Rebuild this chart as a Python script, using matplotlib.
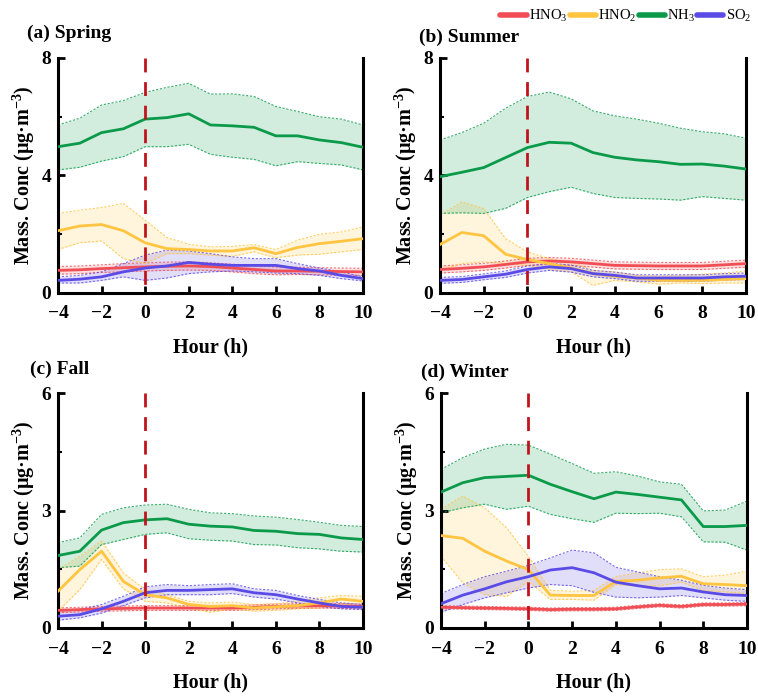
import numpy as np
import matplotlib
matplotlib.use("Agg")
import matplotlib.pyplot as plt
from matplotlib.ticker import MultipleLocator
from matplotlib.lines import Line2D

plt.rcParams['font.family'] = ['Liberation Serif', 'DejaVu Serif']
plt.rcParams['mathtext.fontset'] = 'custom'
plt.rcParams['mathtext.rm'] = 'Liberation Serif'
plt.rcParams['mathtext.bf'] = 'Liberation Serif:bold'
plt.rcParams['mathtext.it'] = 'Liberation Serif:italic'
plt.rcParams['mathtext.default'] = 'regular'

hours = list(range(-4, 11))
species = ['HNO3', 'HNO2', 'NH3', 'SO2']
labels = [r'HNO$_3$', r'HNO$_2$', r'NH$_3$', r'SO$_2$']
colors = ['#F04E54', '#FFC440', '#0A9A4A', '#5A4BE6']
titles = ['(a) Spring', '(b) Summer', '(c) Fall', '(d) Winter']
ymax = [8, 8, 6, 6]

# ---------------- Spring ----------------
spring_mean = {
    'HNO3': [0.77, 0.79, 0.83, 0.86, 0.89, 0.91, 0.92, 0.90, 0.85, 0.80, 0.75, 0.75, 0.74, 0.73, 0.72],
    'HNO2': [2.12, 2.28, 2.33, 2.12, 1.71, 1.51, 1.48, 1.43, 1.43, 1.54, 1.34, 1.55, 1.68, 1.76, 1.85],
    'NH3':  [4.98, 5.10, 5.46, 5.59, 5.92, 5.97, 6.10, 5.72, 5.69, 5.64, 5.35, 5.35, 5.21, 5.12, 4.96],
    'SO2':  [0.43, 0.47, 0.55, 0.72, 0.85, 0.92, 1.04, 0.98, 0.94, 0.94, 0.94, 0.83, 0.75, 0.60, 0.49],
}
spring_upper = {
    'HNO3': [0.90, 0.92, 0.96, 1.00, 1.03, 1.05, 1.06, 1.03, 0.98, 0.94, 0.88, 0.88, 0.86, 0.85, 0.84],
    'HNO2': [2.71, 2.82, 2.91, 3.05, 2.48, 1.89, 1.66, 1.57, 1.59, 1.65, 1.48, 1.80, 2.00, 2.08, 2.25],
    'NH3':  [5.72, 5.95, 6.40, 6.55, 6.83, 7.00, 7.14, 6.77, 6.78, 6.69, 6.35, 6.18, 6.00, 5.92, 5.72],
    'SO2':  [0.55, 0.60, 0.72, 1.00, 1.29, 1.46, 1.43, 1.34, 1.23, 1.17, 1.17, 1.00, 0.85, 0.72, 0.55],
}
spring_lower = {
    'HNO3': [0.64, 0.66, 0.70, 0.72, 0.75, 0.77, 0.78, 0.77, 0.72, 0.66, 0.62, 0.63, 0.62, 0.61, 0.60],
    'HNO2': [1.48, 1.71, 1.77, 1.17, 1.00, 1.34, 1.34, 1.29, 1.25, 1.40, 1.20, 1.29, 1.32, 1.40, 1.48],
    'NH3':  [4.19, 4.28, 4.49, 4.64, 4.98, 4.98, 5.06, 4.72, 4.62, 4.55, 4.33, 4.47, 4.41, 4.36, 4.19],
    'SO2':  [0.34, 0.34, 0.43, 0.55, 0.43, 0.51, 0.66, 0.72, 0.75, 0.72, 0.68, 0.66, 0.60, 0.49, 0.41],
}

# ---------------- Summer ----------------
summer_mean = {
    'HNO3': [0.80, 0.84, 0.89, 0.97, 1.06, 1.09, 1.06, 1.00, 0.94, 0.93, 0.92, 0.92, 0.92, 0.96, 1.00],
    'HNO2': [1.65, 2.06, 1.95, 1.32, 1.14, 1.00, 0.85, 0.66, 0.57, 0.51, 0.43, 0.43, 0.43, 0.46, 0.49],
    'NH3':  [3.96, 4.11, 4.27, 4.61, 4.95, 5.13, 5.10, 4.78, 4.62, 4.53, 4.47, 4.38, 4.39, 4.32, 4.22],
    'SO2':  [0.43, 0.46, 0.55, 0.64, 0.80, 0.89, 0.83, 0.66, 0.60, 0.51, 0.51, 0.51, 0.51, 0.55, 0.57],
}
summer_upper = {
    'HNO3': [0.92, 0.96, 1.01, 1.09, 1.18, 1.21, 1.18, 1.12, 1.06, 1.05, 1.04, 1.04, 1.04, 1.08, 1.12],
    'HNO2': [2.65, 3.10, 2.88, 1.85, 1.40, 1.17, 1.06, 0.77, 0.72, 0.60, 0.57, 0.60, 0.64, 0.68, 0.75],
    'NH3':  [5.21, 5.46, 5.78, 6.29, 6.69, 6.84, 6.61, 6.20, 6.03, 5.92, 5.78, 5.61, 5.49, 5.42, 5.27],
    'SO2':  [0.53, 0.56, 0.65, 0.75, 0.92, 1.01, 0.95, 0.77, 0.71, 0.62, 0.62, 0.62, 0.62, 0.66, 0.68],
}
summer_lower = {
    'HNO3': [0.68, 0.72, 0.77, 0.85, 0.94, 0.97, 0.94, 0.88, 0.82, 0.81, 0.80, 0.80, 0.80, 0.84, 0.88],
    'HNO2': [0.77, 1.00, 1.06, 1.00, 0.94, 0.80, 0.72, 0.26, 0.43, 0.38, 0.30, 0.34, 0.32, 0.34, 0.34],
    'NH3':  [2.71, 2.73, 2.71, 2.88, 3.25, 3.45, 3.60, 3.39, 3.25, 3.22, 3.20, 3.16, 3.28, 3.22, 3.16],
    'SO2':  [0.33, 0.36, 0.45, 0.53, 0.68, 0.77, 0.71, 0.55, 0.49, 0.40, 0.40, 0.40, 0.40, 0.44, 0.46],
}

# ---------------- Fall ----------------
fall_mean = {
    'HNO3': [0.45, 0.47, 0.49, 0.50, 0.51, 0.51, 0.51, 0.51, 0.51, 0.53, 0.55, 0.56, 0.57, 0.56, 0.55],
    'HNO2': [0.94, 1.49, 1.96, 1.19, 0.85, 0.77, 0.60, 0.55, 0.57, 0.51, 0.54, 0.57, 0.64, 0.74, 0.68],
    'NH3':  [1.85, 1.96, 2.50, 2.69, 2.76, 2.79, 2.65, 2.60, 2.58, 2.49, 2.47, 2.41, 2.39, 2.30, 2.26],
    'SO2':  [0.30, 0.34, 0.49, 0.68, 0.90, 0.96, 0.96, 0.98, 1.00, 0.90, 0.85, 0.74, 0.64, 0.55, 0.53],
}
fall_upper = {
    'HNO3': [0.51, 0.53, 0.55, 0.56, 0.57, 0.57, 0.57, 0.57, 0.57, 0.59, 0.61, 0.62, 0.63, 0.62, 0.61],
    'HNO2': [1.49, 1.83, 2.22, 1.41, 0.98, 0.85, 0.68, 0.64, 0.66, 0.60, 0.62, 0.68, 0.77, 0.83, 0.81],
    'NH3':  [2.18, 2.30, 2.90, 3.07, 3.14, 3.16, 3.03, 2.94, 2.92, 2.86, 2.83, 2.77, 2.70, 2.62, 2.59],
    'SO2':  [0.43, 0.47, 0.60, 0.81, 1.05, 1.11, 1.08, 1.11, 1.13, 1.00, 0.96, 0.83, 0.73, 0.64, 0.60],
}
fall_lower = {
    'HNO3': [0.39, 0.41, 0.43, 0.44, 0.45, 0.45, 0.45, 0.45, 0.45, 0.47, 0.49, 0.50, 0.51, 0.50, 0.49],
    'HNO2': [0.43, 0.98, 1.75, 1.00, 0.68, 0.64, 0.51, 0.40, 0.49, 0.43, 0.45, 0.49, 0.51, 0.62, 0.55],
    'NH3':  [1.54, 1.58, 2.13, 2.26, 2.39, 2.43, 2.28, 2.24, 2.22, 2.13, 2.12, 2.05, 2.02, 1.96, 1.94],
    'SO2':  [0.20, 0.26, 0.38, 0.57, 0.77, 0.85, 0.85, 0.85, 0.88, 0.79, 0.74, 0.64, 0.55, 0.49, 0.47],
}

# ---------------- Winter ----------------
winter_mean = {
    'HNO3': [0.53, 0.52, 0.51, 0.50, 0.49, 0.47, 0.48, 0.48, 0.49, 0.54, 0.58, 0.55, 0.60, 0.60, 0.61],
    'HNO2': [2.36, 2.29, 1.96, 1.71, 1.49, 0.84, 0.83, 0.83, 1.19, 1.22, 1.28, 1.32, 1.13, 1.11, 1.08],
    'NH3':  [3.47, 3.71, 3.84, 3.87, 3.90, 3.67, 3.48, 3.30, 3.47, 3.41, 3.34, 3.27, 2.59, 2.59, 2.62],
    'SO2':  [0.62, 0.84, 1.00, 1.18, 1.31, 1.48, 1.54, 1.41, 1.17, 1.08, 1.00, 1.02, 0.92, 0.85, 0.83],
}
winter_upper = {
    'HNO3': [0.57, 0.56, 0.55, 0.54, 0.53, 0.51, 0.52, 0.52, 0.53, 0.58, 0.62, 0.59, 0.64, 0.64, 0.65],
    'HNO2': [3.03, 3.37, 3.07, 2.56, 1.83, 0.96, 0.94, 0.96, 1.31, 1.41, 1.49, 1.51, 1.31, 1.35, 1.45],
    'NH3':  [4.05, 4.35, 4.57, 4.69, 4.67, 4.44, 4.20, 3.95, 3.99, 3.88, 3.73, 3.67, 2.99, 3.01, 3.24],
    'SO2':  [0.88, 1.11, 1.31, 1.45, 1.60, 1.79, 1.99, 1.92, 1.55, 1.43, 1.31, 1.22, 1.09, 1.02, 0.98],
}
winter_lower = {
    'HNO3': [0.49, 0.48, 0.47, 0.46, 0.45, 0.43, 0.44, 0.44, 0.45, 0.50, 0.54, 0.51, 0.56, 0.56, 0.57],
    'HNO2': [1.83, 1.15, 0.85, 0.81, 1.19, 0.73, 0.73, 0.71, 1.11, 1.07, 1.08, 1.17, 0.96, 0.92, 0.88],
    'NH3':  [2.94, 3.07, 3.16, 3.03, 3.11, 2.90, 2.79, 2.70, 2.93, 2.92, 2.93, 2.84, 2.20, 2.19, 1.99],
    'SO2':  [0.40, 0.60, 0.77, 0.90, 1.02, 1.11, 1.08, 0.91, 0.79, 0.77, 0.79, 0.83, 0.77, 0.71, 0.68],
}

seasons = [
    (spring_mean, spring_upper, spring_lower),
    (summer_mean, summer_upper, summer_lower),
    (fall_mean, fall_upper, fall_lower),
    (winter_mean, winter_upper, winter_lower),
]

fig = plt.figure(figsize=(7.58, 6.98), dpi=100)
W, H = 758.0, 698.0
boxes = [(58, 58, 363, 293), (440, 58, 746, 293), (58, 393, 363, 628), (441, 393, 747, 628)]
title_pos = [(27, 33), (419, 37), (30, 369), (421, 372)]

for i, (mean, upper, lower) in enumerate(seasons):
    x0, y0, x1, y1 = boxes[i]
    ax = fig.add_axes([x0 / W, 1 - y1 / H, (x1 - x0) / W, (y1 - y0) / H])
    for sp, c in zip(species, colors):
        ax.fill_between(hours, lower[sp], upper[sp], color=c, alpha=0.18, lw=0, zorder=1)
        ax.plot(hours, upper[sp], color=c, lw=0.8, ls=(0, (2, 1.5)), alpha=0.8, zorder=2)
        ax.plot(hours, lower[sp], color=c, lw=0.8, ls=(0, (2, 1.5)), alpha=0.8, zorder=2)
        ax.plot(hours, mean[sp], color=c, lw=2.0, zorder=3)
    ax.axvline(0, ymin=1, ymax=0, color='#C0141C', lw=2.0, ls=(0, (5, 3.5)), zorder=4)
    ax.set_xlim(-4, 10)
    ax.set_ylim(0, ymax[i])
    ax.xaxis.set_major_locator(MultipleLocator(2))
    ax.yaxis.set_major_locator(MultipleLocator(ymax[i] / 2))
    ax.yaxis.set_minor_locator(MultipleLocator(ymax[i] / 4))
    ax.spines['top'].set_visible(False)
    for s in ['left', 'right', 'bottom']:
        ax.spines[s].set_linewidth(2.2)
    ax.tick_params(axis='both', which='major', direction='in', length=5, width=2, labelsize=14)
    ax.tick_params(axis='x', which='major', pad=9)
    ax.tick_params(axis='y', which='major', pad=5)
    ax.tick_params(axis='y', which='minor', direction='in', length=3, width=1.5)
    ax.tick_params(axis='y', which='both', right=False)
    for lab in ax.get_xticklabels() + ax.get_yticklabels():
        lab.set_fontweight('bold')
    ax.set_xlabel('Hour (h)', fontsize=14.5, fontweight='bold', labelpad=11)
    ax.set_ylabel(r'Mass. Conc (μg·m$^{\mathbf{-3}}$)', fontsize=14.5, fontweight='bold', labelpad=3)
    tx, ty = title_pos[i]
    fig.text(tx / W, 1 - ty / H, titles[i], fontsize=14, fontweight='bold', ha='left', va='center')

handles = [Line2D([0], [0], color=c, lw=4, solid_capstyle='round') for c in colors]
fig.legend(handles, labels, loc='center right', bbox_to_anchor=(751 / W, 1 - 16 / H), ncol=4,
           frameon=False, fontsize=10.5, handlelength=1.8, handletextpad=0.15, columnspacing=0.15,
           borderaxespad=0, borderpad=0)

fig.savefig('out.png', dpi=100)
